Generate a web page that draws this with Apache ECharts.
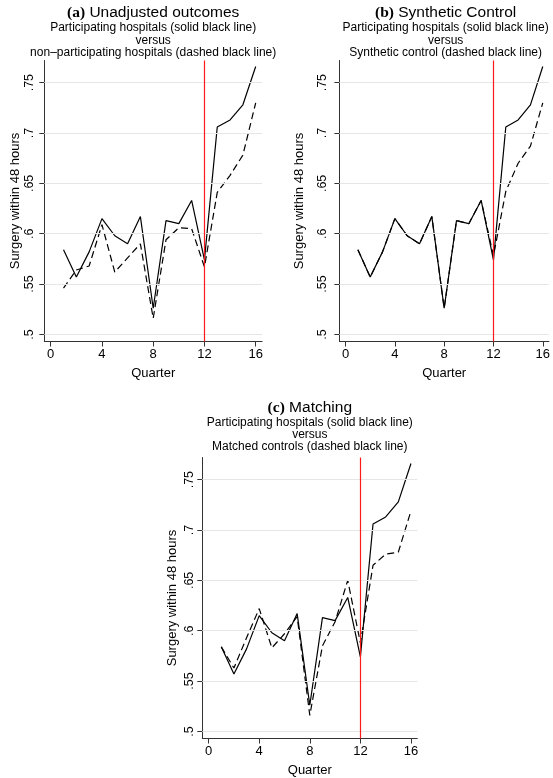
<!DOCTYPE html>
<html>
<head>
<meta charset="utf-8">
<script src="https://cdn.jsdelivr.net/npm/echarts@6/dist/echarts.min.js"></script>
<style>
html,body{margin:0;padding:0;background:#fff;}
#chart{width:553px;height:778px;}
</style>
</head>
<body>
<div id="chart"></div>
<script>
const quarters = [1, 2, 3, 4, 5, 6, 7, 8, 9, 10, 11, 12, 13, 14, 15, 16];
const participating = [0.584, 0.557, 0.582, 0.615, 0.598, 0.590, 0.617, 0.526, 0.613, 0.610, 0.633, 0.574, 0.706, 0.713, 0.728, 0.766];
const nonParticipating = [0.546, 0.564, 0.568, 0.609, 0.562, 0.576, 0.590, 0.516, 0.594, 0.606, 0.605, 0.567, 0.641, 0.658, 0.678, 0.730];
const syntheticControl = [0.584, 0.557, 0.582, 0.615, 0.598, 0.590, 0.617, 0.526, 0.613, 0.610, 0.633, 0.578, 0.642, 0.670, 0.687, 0.730];
const matchedControls = [0.584, 0.563, 0.593, 0.622, 0.583, 0.597, 0.614, 0.516, 0.585, 0.609, 0.650, 0.588, 0.665, 0.676, 0.678, 0.719];
const xTicks = [0, 4, 8, 12, 16];
const yTicks = [0.5, 0.55, 0.6, 0.65, 0.7, 0.75];
const yTickLabels = ['.5', '.55', '.6', '.65', '.7', '.75'];
const interventionQuarter = 12;

const panels = [
  {letter: '(a)', title: 'Unadjusted outcomes', sub: ['Participating hospitals (solid black line)', 'versus', 'non\u2013participating hospitals (dashed black line)'], control: nonParticipating},
  {letter: '(b)', title: 'Synthetic Control', sub: ['Participating hospitals (solid black line)', 'versus', 'Synthetic control (dashed black line)'], control: syntheticControl},
  {letter: '(c)', title: 'Matching', sub: ['Participating hospitals (solid black line)', 'versus', 'Matched controls (dashed black line)'], control: matchedControls}
];

const FONT = 'Liberation Sans, Arial, sans-serif';
const grids = [
  {left: 44.3, top: 60.5, width: 217.8, height: 281},
  {left: 339.4, top: 60.5, width: 212.5, height: 281},
  {left: 202.3, top: 457.5, width: 215, height: 281}
];
const titleY = [13, 13, 407.5];
const labelMargin = [8, 10, 6];
const nameGapY = [22, 33, 23];

const chart = echarts.init(document.getElementById('chart'), null, {renderer: 'canvas'});

const xAxes = [], yAxes = [], series = [], graphics = [];
panels.forEach((p, i) => {
  xAxes.push({
    type: 'value', gridIndex: i, min: -0.5, max: 16.5,
    axisLine: {show: true, onZero: false, lineStyle: {color: '#333', width: 1}},
    axisTick: {show: true, customValues: xTicks, length: 5, lineStyle: {color: '#333'}},
    axisLabel: {show: true, customValues: xTicks, fontSize: 13, color: '#000', fontFamily: FONT, margin: 6},
    splitLine: {show: false},
    name: 'Quarter', nameLocation: 'middle', nameGap: 25,
    nameTextStyle: {fontSize: 13, color: '#000', fontFamily: FONT}
  });
  yAxes.push({
    type: 'value', gridIndex: i, min: 0.493, max: 0.772,
    axisLine: {show: true, onZero: false, lineStyle: {color: '#333', width: 1}},
    axisTick: {show: true, customValues: yTicks, length: 5, lineStyle: {color: '#333'}},
    axisLabel: {show: true, customValues: yTicks, rotate: 90, fontSize: 12.5, color: '#000', fontFamily: FONT, margin: labelMargin[i],
      formatter: v => { const k = yTicks.findIndex(t => Math.abs(t - v) < 1e-9); return k >= 0 ? yTickLabels[k] : ''; }},
    splitLine: {show: false},
    name: 'Surgery within 48 hours', nameLocation: 'middle', nameGap: nameGapY[i], nameRotate: 90,
    nameTextStyle: {fontSize: 13, color: '#000', fontFamily: FONT}
  });
  series.push({
    type: 'line', xAxisIndex: i, yAxisIndex: i, data: [], silent: true, z: 1,
    markLine: {
      silent: true, symbol: ['none', 'none'], animation: false,
      label: {show: false},
      data: yTicks.map(t => ({yAxis: t, lineStyle: {color: '#e6e6e6', width: 1, type: 'solid'}}))
        .concat([{xAxis: interventionQuarter, lineStyle: {color: '#ff1a1a', width: 1.2, type: 'solid'}}])
    }
  });
  series.push({
    type: 'line', xAxisIndex: i, yAxisIndex: i, symbol: 'none', z: 3, animation: false,
    data: quarters.map((q, k) => [q, p.control[k]]),
    lineStyle: {color: '#000', width: 1.2, type: [7, 4]}
  });
  series.push({
    type: 'line', xAxisIndex: i, yAxisIndex: i, symbol: 'none', z: 4, animation: false,
    data: quarters.map((q, k) => [q, participating[k]]),
    lineStyle: {color: '#000', width: 1.2, type: 'solid'}
  });
  const cx = grids[i].left + grids[i].width / 2;
  graphics.push({
    type: 'text', x: cx, y: titleY[i],
    style: {
      text: '{b|' + p.letter + '} ' + p.title,
      textAlign: 'center', textVerticalAlign: 'middle',
      fontSize: 15.5, fontFamily: FONT, fill: '#000',
      rich: {b: {fontFamily: 'Liberation Serif, Times New Roman, serif', fontWeight: 'bold', fontSize: 15.5, fill: '#000'}}
    }
  });
  p.sub.forEach((line, j) => {
    graphics.push({
      type: 'text', x: cx, y: titleY[i] + 15 + 12.3 * j,
      style: {text: line, textAlign: 'center', textVerticalAlign: 'middle', fontSize: 12, fontFamily: FONT, fill: '#000'}
    });
  });
});

chart.setOption({
  animation: false,
  backgroundColor: '#fff',
  grid: grids.map(g => Object.assign({containLabel: false}, g)),
  xAxis: xAxes,
  yAxis: yAxes,
  series: series,
  graphic: graphics
});
</script>
</body>
</html>
